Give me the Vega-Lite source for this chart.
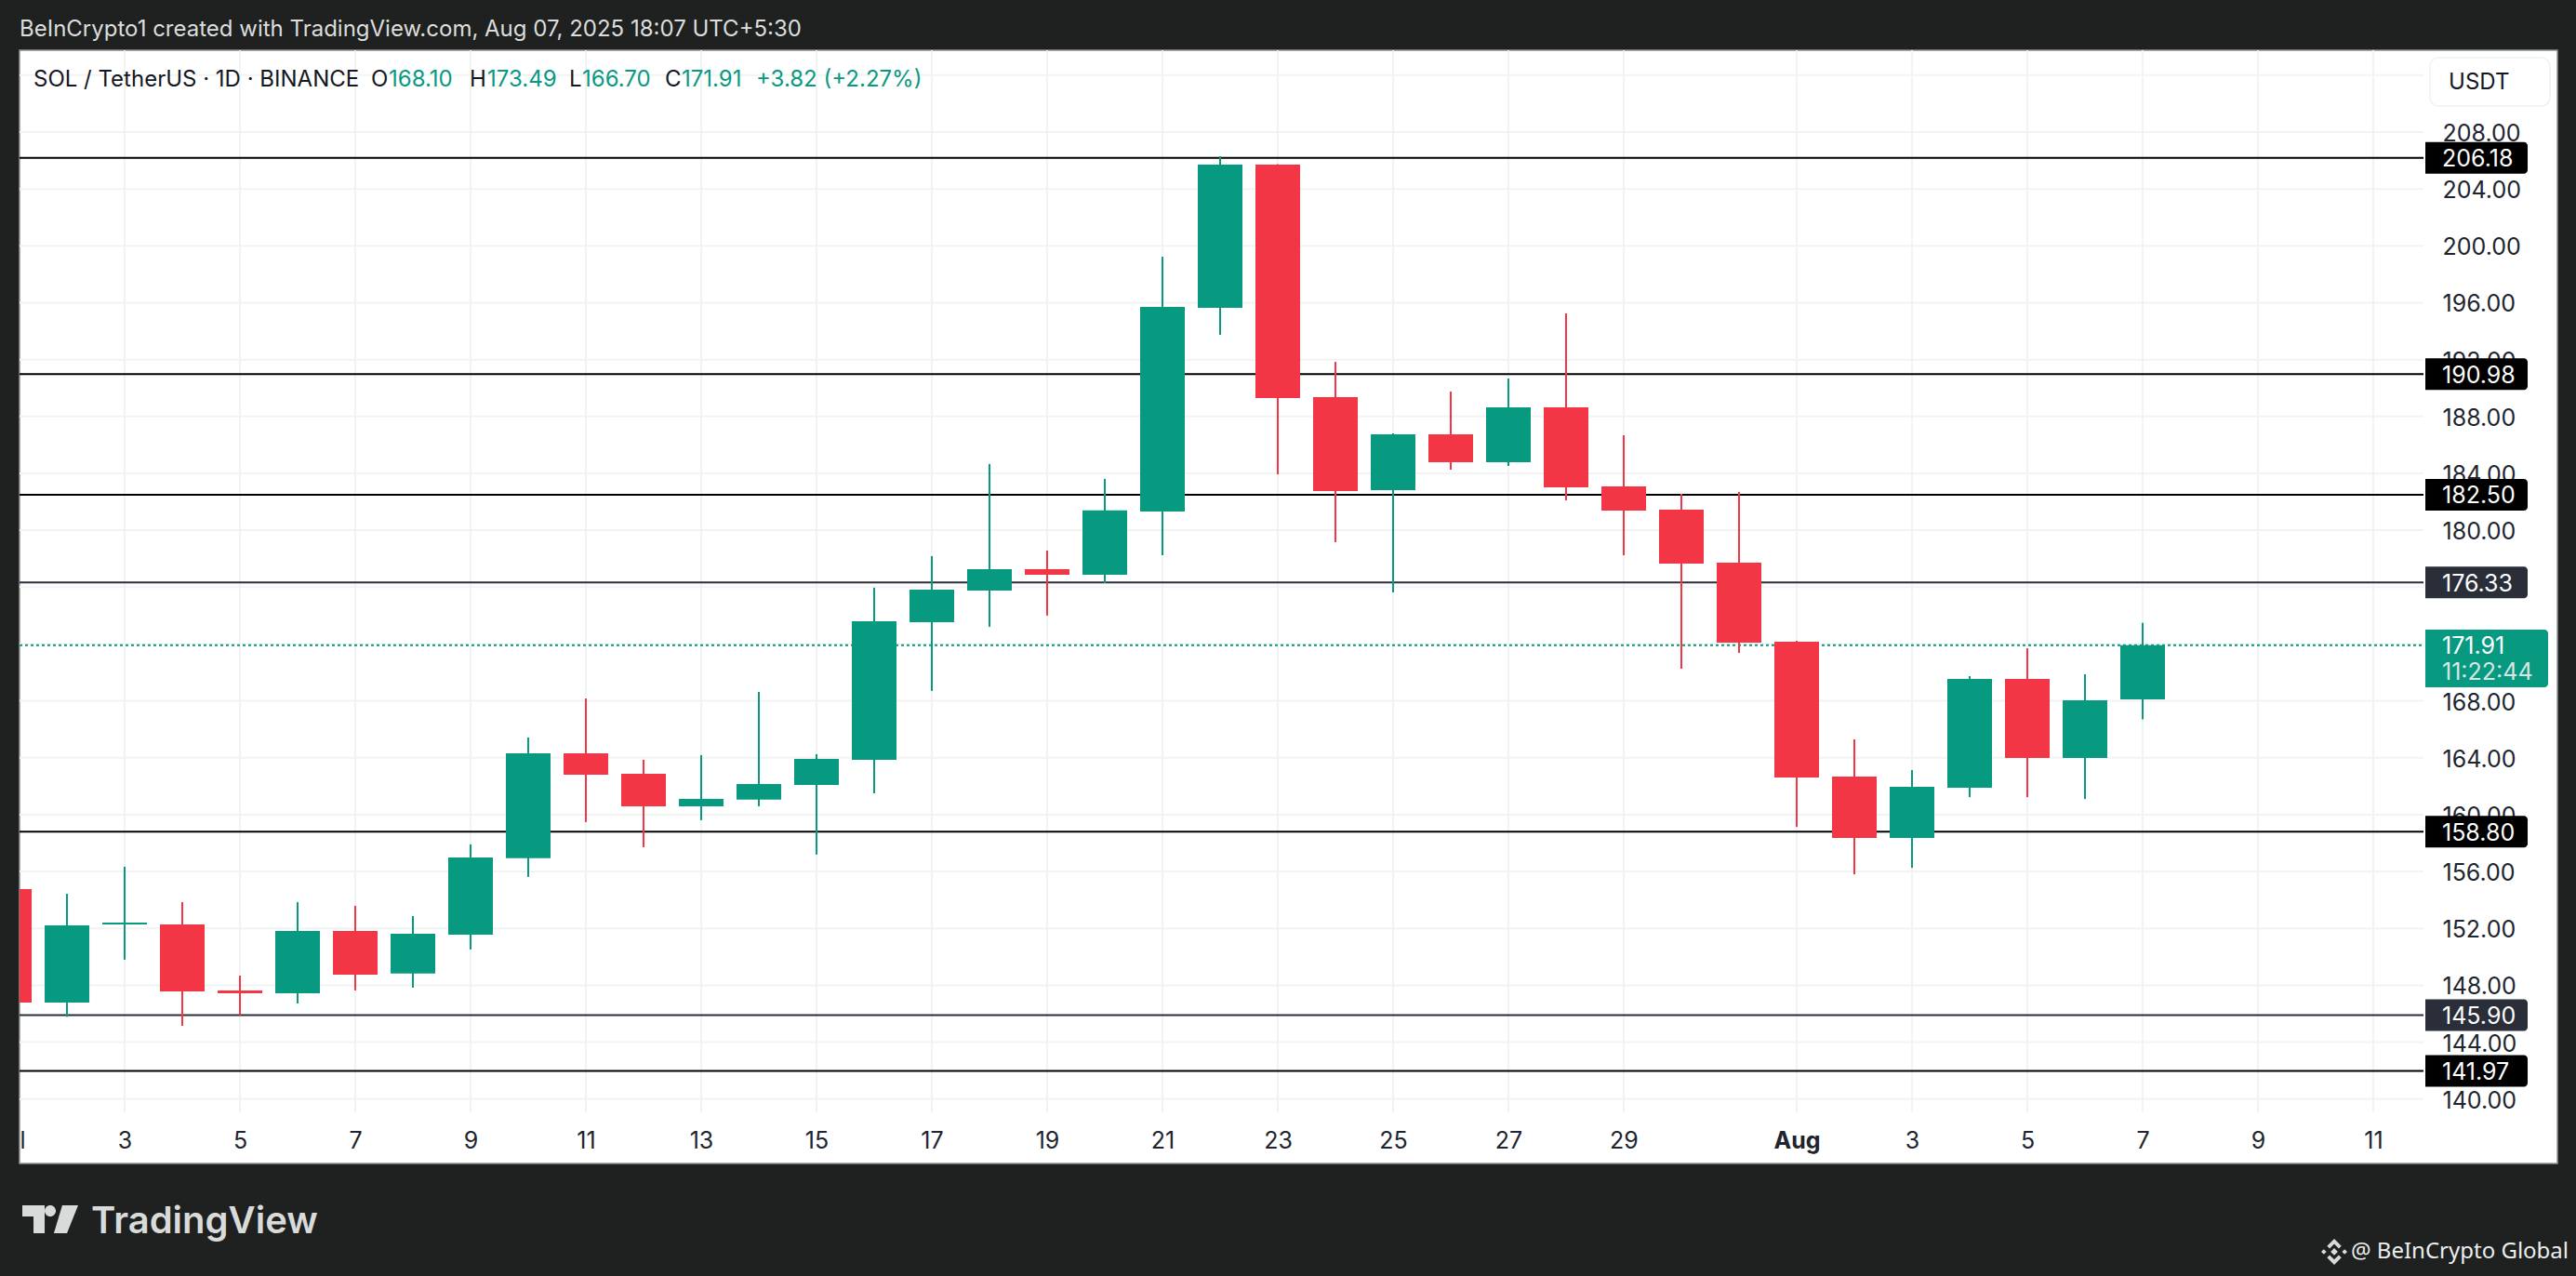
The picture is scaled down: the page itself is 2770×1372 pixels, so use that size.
{
  "$schema": "https://vega.github.io/schema/vega-lite/v6.json",
  "width": 2729,
  "height": 1197,
  "autosize": {"type": "none"},
  "padding": {"left": 21, "top": 54, "right": 20, "bottom": 121},
  "background": "#1e2120",
  "title": {
    "text": "BeInCrypto1 created with TradingView.com, Aug 07, 2025 18:07 UTC+5:30",
    "anchor": "start",
    "frame": "group",
    "font": "Inter",
    "fontSize": 24,
    "fontWeight": 400,
    "color": "#dcdddc",
    "offset": 9
  },
  "datasets": {
    "candles": [
      {"date": "2025-07-01", "open": 154.77, "high": 155.2, "low": 146.3, "close": 146.79},
      {"date": "2025-07-02", "open": 146.79, "high": 154.44, "low": 145.78, "close": 152.22},
      {"date": "2025-07-03", "open": 152.28, "high": 156.34, "low": 149.8, "close": 152.41},
      {"date": "2025-07-04", "open": 152.28, "high": 153.85, "low": 145.15, "close": 147.57},
      {"date": "2025-07-05", "open": 147.64, "high": 148.68, "low": 145.89, "close": 147.44},
      {"date": "2025-07-06", "open": 147.44, "high": 153.85, "low": 146.72, "close": 151.82},
      {"date": "2025-07-07", "open": 151.82, "high": 153.59, "low": 147.64, "close": 148.75},
      {"date": "2025-07-08", "open": 148.82, "high": 152.87, "low": 147.83, "close": 151.63},
      {"date": "2025-07-09", "open": 151.56, "high": 157.91, "low": 150.52, "close": 156.99},
      {"date": "2025-07-10", "open": 156.93, "high": 165.43, "low": 155.62, "close": 164.32},
      {"date": "2025-07-11", "open": 164.32, "high": 168.17, "low": 159.48, "close": 162.81},
      {"date": "2025-07-12", "open": 162.88, "high": 163.86, "low": 157.71, "close": 160.59},
      {"date": "2025-07-13", "open": 160.59, "high": 164.19, "low": 159.61, "close": 161.11},
      {"date": "2025-07-14", "open": 161.05, "high": 168.63, "low": 160.59, "close": 162.16},
      {"date": "2025-07-15", "open": 162.09, "high": 164.25, "low": 157.19, "close": 163.92},
      {"date": "2025-07-16", "open": 163.86, "high": 175.96, "low": 161.5, "close": 173.6},
      {"date": "2025-07-17", "open": 173.54, "high": 178.18, "low": 168.7, "close": 175.83},
      {"date": "2025-07-18", "open": 175.76, "high": 184.66, "low": 173.21, "close": 177.26},
      {"date": "2025-07-19", "open": 177.26, "high": 178.57, "low": 174.0, "close": 176.87},
      {"date": "2025-07-20", "open": 176.87, "high": 183.61, "low": 176.28, "close": 181.39},
      {"date": "2025-07-21", "open": 181.32, "high": 199.24, "low": 178.24, "close": 195.7},
      {"date": "2025-07-22", "open": 195.64, "high": 206.3, "low": 193.74, "close": 205.71},
      {"date": "2025-07-23", "open": 205.71, "high": 205.75, "low": 183.93, "close": 189.29},
      {"date": "2025-07-24", "open": 189.36, "high": 191.84, "low": 179.16, "close": 182.75},
      {"date": "2025-07-25", "open": 182.82, "high": 186.81, "low": 175.63, "close": 186.74},
      {"date": "2025-07-26", "open": 186.74, "high": 189.75, "low": 184.26, "close": 184.78},
      {"date": "2025-07-27", "open": 184.78, "high": 190.67, "low": 184.52, "close": 188.64},
      {"date": "2025-07-28", "open": 188.64, "high": 195.25, "low": 182.1, "close": 183.02},
      {"date": "2025-07-29", "open": 183.08, "high": 186.68, "low": 178.24, "close": 181.38},
      {"date": "2025-07-30", "open": 181.45, "high": 182.56, "low": 170.26, "close": 177.65},
      {"date": "2025-07-31", "open": 177.72, "high": 182.69, "low": 171.37, "close": 172.09},
      {"date": "2025-08-01", "open": 172.16, "high": 172.22, "low": 159.14, "close": 162.61},
      {"date": "2025-08-02", "open": 162.67, "high": 165.29, "low": 155.8, "close": 158.36},
      {"date": "2025-08-03", "open": 158.36, "high": 163.13, "low": 156.26, "close": 161.95},
      {"date": "2025-08-04", "open": 161.89, "high": 169.74, "low": 161.23, "close": 169.54},
      {"date": "2025-08-05", "open": 169.54, "high": 171.7, "low": 161.23, "close": 163.98},
      {"date": "2025-08-06", "open": 163.98, "high": 169.87, "low": 161.1, "close": 168.04},
      {"date": "2025-08-07", "open": 168.1, "high": 173.49, "low": 166.7, "close": 171.91}
    ],
    "levels": [
      {"price": 206.18, "kind": "level"},
      {"price": 190.98, "kind": "level"},
      {"price": 182.5, "kind": "level"},
      {"price": 176.33, "kind": "soft"},
      {"price": 158.8, "kind": "level"},
      {"price": 145.9, "kind": "soft"},
      {"price": 141.97, "kind": "level"}
    ],
    "lastPrice": [{"price": 171.91, "countdown": "11:22:44"}],
    "gridPrices": [
      {"price": 140}, {"price": 144}, {"price": 148}, {"price": 152}, {"price": 156},
      {"price": 160}, {"price": 164}, {"price": 168}, {"price": 172}, {"price": 176},
      {"price": 180}, {"price": 184}, {"price": 188}, {"price": 192}, {"price": 196},
      {"price": 200}, {"price": 204}, {"price": 208}, {"price": 212}
    ],
    "gridDays": [
      {"date": "2025-07-03"}, {"date": "2025-07-05"}, {"date": "2025-07-07"}, {"date": "2025-07-09"},
      {"date": "2025-07-11"}, {"date": "2025-07-13"}, {"date": "2025-07-15"}, {"date": "2025-07-17"},
      {"date": "2025-07-19"}, {"date": "2025-07-21"}, {"date": "2025-07-23"}, {"date": "2025-07-25"},
      {"date": "2025-07-27"}, {"date": "2025-07-29"}, {"date": "2025-08-01"}, {"date": "2025-08-03"},
      {"date": "2025-08-05"}, {"date": "2025-08-07"}, {"date": "2025-08-09"}, {"date": "2025-08-11"}
    ],
    "legend": [
      {"label": "SOL / TetherUS · 1D · BINANCE", "at": "2025-07-01T10:04:00Z", "kind": "ink"},
      {"label": "O", "at": "2025-07-07T06:35:00Z", "kind": "ink"},
      {"label": "168.10", "at": "2025-07-07T13:56:00Z", "kind": "up"},
      {"label": "H", "at": "2025-07-08T23:37:00Z", "kind": "ink"},
      {"label": "173.49", "at": "2025-07-09T06:58:00Z", "kind": "up"},
      {"label": "L", "at": "2025-07-10T17:02:00Z", "kind": "ink"},
      {"label": "166.70", "at": "2025-07-10T22:27:00Z", "kind": "up"},
      {"label": "C", "at": "2025-07-12T08:54:00Z", "kind": "ink"},
      {"label": "171.91", "at": "2025-07-12T15:52:00Z", "kind": "up"},
      {"label": "+3.82 (+2.27%)", "at": "2025-07-13T22:50:00Z", "kind": "up"}
    ]
  },
  "layer": [
    {
      "data": {"name": "gridPrices"},
      "mark": {"type": "rule", "stroke": "#f2f3f3", "strokeWidth": 2},
      "encoding": {
        "x": {
          "datum": {"year": 2025, "month": 7, "date": 1, "hours": 4, "minutes": 15, "utc": true},
          "type": "temporal",
          "scale": {
            "type": "utc",
            "domain": [
              {"year": 2025, "month": 7, "date": 1, "hours": 4, "minutes": 15, "utc": true},
              {"year": 2025, "month": 8, "date": 14, "hours": 4, "minutes": 39, "utc": true}
            ],
            "nice": false,
            "padding": 0
          }
        },
        "x2": {"datum": {"year": 2025, "month": 8, "date": 11, "hours": 20, "minutes": 55, "utc": true}},
        "y": {
          "field": "price",
          "type": "quantitative",
          "scale": {"domain": [135.47, 213.755], "nice": false, "zero": false, "padding": 0},
          "title": null,
          "axis": {
            "orient": "right",
            "offset": -144,
            "values": [140, 144, 148, 152, 156, 160, 164, 168, 172, 176, 180, 184, 188, 192, 196, 200, 204, 208],
            "format": ".2f",
            "grid": false,
            "domain": false,
            "ticks": false,
            "labelFont": "Inter",
            "labelFontSize": 25,
            "labelColor": "#20242e",
            "labelPadding": 20,
            "labelAlign": "left",
            "labelBaseline": "middle",
            "labelOffset": 1.5,
            "labelOverlap": false,
            "labelBound": false
          }
        }
      }
    },
    {
      "data": {"name": "gridDays"},
      "mark": {"type": "rule", "stroke": "#f2f3f3", "strokeWidth": 2},
      "encoding": {
        "x": {
          "field": "date",
          "type": "temporal",
          "title": null,
          "axis": {
            "orient": "bottom",
            "offset": -55,
            "values": [
              {"year": 2025, "month": 7, "date": 1, "hours": 5, "minutes": 25, "utc": true},
              {"year": 2025, "month": 7, "date": 3, "utc": true}, {"year": 2025, "month": 7, "date": 5, "utc": true},
              {"year": 2025, "month": 7, "date": 7, "utc": true}, {"year": 2025, "month": 7, "date": 9, "utc": true},
              {"year": 2025, "month": 7, "date": 11, "utc": true}, {"year": 2025, "month": 7, "date": 13, "utc": true},
              {"year": 2025, "month": 7, "date": 15, "utc": true}, {"year": 2025, "month": 7, "date": 17, "utc": true},
              {"year": 2025, "month": 7, "date": 19, "utc": true}, {"year": 2025, "month": 7, "date": 21, "utc": true},
              {"year": 2025, "month": 7, "date": 23, "utc": true}, {"year": 2025, "month": 7, "date": 25, "utc": true},
              {"year": 2025, "month": 7, "date": 27, "utc": true}, {"year": 2025, "month": 7, "date": 29, "utc": true},
              {"year": 2025, "month": 8, "date": 1, "utc": true}, {"year": 2025, "month": 8, "date": 3, "utc": true},
              {"year": 2025, "month": 8, "date": 5, "utc": true}, {"year": 2025, "month": 8, "date": 7, "utc": true},
              {"year": 2025, "month": 8, "date": 9, "utc": true}, {"year": 2025, "month": 8, "date": 11, "utc": true}
            ],
            "labelExpr": "utcdate(datum.value) == 1 ? (utcmonth(datum.value) == 7 ? 'Aug' : 'l') : utcdate(datum.value)",
            "labelFontWeight": {"expr": "utcmonth(datum.value) == 7 && utcdate(datum.value) == 1 ? 'bold' : 'normal'"},
            "grid": false,
            "domain": false,
            "ticks": false,
            "labelFont": "Inter",
            "labelFontSize": 25,
            "labelColor": "#20242e",
            "labelPadding": 18,
            "labelOverlap": false,
            "labelBound": false,
            "labelFlush": false
          }
        },
        "y": {"datum": 213.755},
        "y2": {"datum": 139.07}
      }
    },
    {
      "data": {"name": "levels"},
      "mark": {"type": "rule", "strokeWidth": 2},
      "encoding": {
        "x": {"datum": {"year": 2025, "month": 7, "date": 1, "hours": 4, "minutes": 15, "utc": true}, "type": "temporal"},
        "x2": {"datum": {"year": 2025, "month": 8, "date": 11, "hours": 20, "minutes": 55, "utc": true}},
        "y": {"field": "price", "type": "quantitative"},
        "color": {
          "field": "kind",
          "type": "nominal",
          "scale": {"domain": ["level", "soft", "ink", "up", "paper", "muted"], "range": ["#000000", "#2a2e39", "#131722", "#089981", "#ffffff", "#d6dcda"]}
        }
      }
    },
    {
      "data": {"name": "lastPrice"},
      "mark": {"type": "rule", "stroke": "#089981", "strokeWidth": 2, "strokeDash": [3, 3]},
      "encoding": {
        "x": {"datum": {"year": 2025, "month": 7, "date": 1, "hours": 4, "minutes": 15, "utc": true}, "type": "temporal"},
        "x2": {"datum": {"year": 2025, "month": 8, "date": 11, "hours": 20, "minutes": 55, "utc": true}},
        "y": {"field": "price", "type": "quantitative"}
      }
    },
    {
      "data": {"name": "candles"},
      "mark": {"type": "rule", "strokeWidth": 2, "clip": true},
      "encoding": {
        "x": {"field": "date", "type": "temporal"},
        "y": {"field": "low", "type": "quantitative"},
        "y2": {"field": "high"},
        "color": {"condition": {"test": "datum.close >= datum.open", "value": "#089981"}, "value": "#f23645"}
      }
    },
    {
      "data": {"name": "candles"},
      "mark": {"type": "bar", "size": 48, "clip": true},
      "encoding": {
        "x": {"field": "date", "type": "temporal"},
        "y": {"field": "open", "type": "quantitative"},
        "y2": {"field": "close"},
        "color": {"condition": {"test": "datum.close >= datum.open", "value": "#089981"}, "value": "#f23645"}
      }
    },
    {
      "data": {"name": "levels"},
      "mark": {"type": "bar", "orient": "horizontal", "size": 34, "cornerRadiusTopRight": 4, "cornerRadiusBottomRight": 4},
      "encoding": {
        "x": {"datum": {"year": 2025, "month": 8, "date": 11, "hours": 21, "minutes": 41, "utc": true}, "type": "temporal"},
        "x2": {"datum": {"year": 2025, "month": 8, "date": 13, "hours": 16, "minutes": 16, "utc": true}},
        "y": {"field": "price", "type": "quantitative"},
        "color": {"field": "kind", "type": "nominal"}
      }
    },
    {
      "data": {"name": "levels"},
      "mark": {"type": "text", "align": "left", "baseline": "middle", "dy": 1.5, "font": "Inter", "fontSize": 25, "color": "#ffffff"},
      "encoding": {
        "x": {"datum": {"year": 2025, "month": 8, "date": 12, "hours": 4, "minutes": 39, "utc": true}, "type": "temporal"},
        "y": {"field": "price", "type": "quantitative"},
        "text": {"field": "price", "type": "quantitative", "format": ".2f"}
      }
    },
    {
      "data": {"name": "lastPrice"},
      "mark": {"type": "rect", "color": "#089981", "cornerRadiusTopRight": 4, "cornerRadiusBottomRight": 4},
      "encoding": {
        "x": {"datum": {"year": 2025, "month": 8, "date": 11, "hours": 21, "minutes": 41, "utc": true}, "type": "temporal"},
        "x2": {"datum": {"year": 2025, "month": 8, "date": 14, "hours": 0, "minutes": 47, "utc": true}},
        "y": {"datum": 173.01, "type": "quantitative"},
        "y2": {"datum": 168.96}
      }
    },
    {
      "data": {"name": "lastPrice"},
      "mark": {"type": "text", "align": "left", "baseline": "middle", "dy": 1.5, "font": "Inter", "fontSize": 25, "color": "#ffffff"},
      "encoding": {
        "x": {"datum": {"year": 2025, "month": 8, "date": 12, "hours": 4, "minutes": 39, "utc": true}, "type": "temporal"},
        "y": {"field": "price", "type": "quantitative"},
        "text": {"field": "price", "type": "quantitative", "format": ".2f"}
      }
    },
    {
      "data": {"name": "lastPrice"},
      "mark": {"type": "text", "align": "left", "baseline": "middle", "dy": 1.5, "font": "Inter", "fontSize": 25, "color": "#d6e6e1"},
      "encoding": {
        "x": {"datum": {"year": 2025, "month": 8, "date": 12, "hours": 4, "minutes": 39, "utc": true}, "type": "temporal"},
        "y": {"datum": 170.09, "type": "quantitative"},
        "text": {"field": "countdown"}
      }
    },
    {
      "data": {"name": "legend"},
      "mark": {"type": "text", "align": "left", "baseline": "alphabetic", "font": "Inter", "fontSize": 24},
      "encoding": {
        "x": {"field": "at", "type": "temporal"},
        "y": {"datum": 211.2, "type": "quantitative"},
        "text": {"field": "label"},
        "color": {"field": "kind", "type": "nominal"}
      }
    },
    {
      "data": {"values": [{"unit": "USDT"}]},
      "mark": {"type": "rect", "fill": "#ffffff", "stroke": "#f0f1f1", "strokeWidth": 1.5, "cornerRadius": 9},
      "encoding": {
        "x": {"datum": {"year": 2025, "month": 8, "date": 11, "hours": 23, "minutes": 37, "utc": true}, "type": "temporal"},
        "x2": {"datum": {"year": 2025, "month": 8, "date": 14, "hours": 1, "minutes": 33, "utc": true}},
        "y": {"datum": 213.23, "type": "quantitative"},
        "y2": {"datum": 209.83}
      }
    },
    {
      "data": {"values": [{"unit": "USDT"}]},
      "mark": {"type": "text", "align": "left", "baseline": "alphabetic", "font": "Inter", "fontSize": 24, "color": "#131722"},
      "encoding": {
        "x": {"datum": {"year": 2025, "month": 8, "date": 12, "hours": 7, "minutes": 22, "utc": true}, "type": "temporal"},
        "y": {"datum": 211.01, "type": "quantitative"},
        "text": {"field": "unit"}
      }
    },
    {
      "data": {"values": [{"brand": "TradingView"}]},
      "mark": {
        "type": "point",
        "filled": true,
        "opacity": 1,
        "size": 3600,
        "color": "#d9dbda",
        "strokeWidth": 0,
        "shape": "M-1,-0.5L-0.2,-0.5L-0.2,0.5L-0.6,0.5L-0.6,-0.1L-1,-0.1ZM-0.2,-0.3A0.2,0.2 0 1,0 0.2,-0.3A0.2,0.2 0 1,0 -0.2,-0.3ZM0.43,-0.5L1,-0.5L0.6,0.5L0.13,0.5Z"
      },
      "encoding": {
        "x": {"datum": {"year": 2025, "month": 7, "date": 1, "hours": 17, "minutes": 2, "utc": true}, "type": "temporal"},
        "y": {"datum": 131.54, "type": "quantitative"}
      }
    },
    {
      "data": {"values": [{"brand": "TradingView"}]},
      "mark": {"type": "text", "align": "left", "baseline": "alphabetic", "font": "Inter", "fontSize": 40, "fontWeight": 600, "color": "#d9dbda"},
      "encoding": {
        "x": {"datum": {"year": 2025, "month": 7, "date": 2, "hours": 10, "minutes": 4, "utc": true}, "type": "temporal"},
        "y": {"datum": 130.56, "type": "quantitative"},
        "text": {"field": "brand"}
      }
    },
    {
      "data": {"values": [{"credit": "@ BeInCrypto Global"}]},
      "mark": {
        "type": "point",
        "filled": true,
        "opacity": 1,
        "size": 784,
        "color": "#d9dbda",
        "strokeWidth": 0,
        "shape": "M0,-1L0.55,-0.45L0.35,-0.25L0,-0.6L-0.35,-0.25L-0.55,-0.45ZM0,1L0.55,0.45L0.35,0.25L0,0.6L-0.35,0.25L-0.55,0.45ZM0,-0.28L0.28,0L0,0.28L-0.28,0ZM-1,0L-0.8,-0.2L-0.6,0L-0.8,0.2ZM1,0L0.8,-0.2L0.6,0L0.8,0.2Z"
      },
      "encoding": {
        "x": {"datum": {"year": 2025, "month": 8, "date": 10, "hours": 7, "minutes": 45, "utc": true}, "type": "temporal"},
        "y": {"datum": 129.26, "type": "quantitative"}
      }
    },
    {
      "data": {"values": [{"credit": "@ BeInCrypto Global"}]},
      "mark": {"type": "text", "align": "right", "baseline": "alphabetic", "font": "Noto Sans", "fontSize": 24, "color": "#eceded"},
      "encoding": {
        "x": {"datum": {"year": 2025, "month": 8, "date": 14, "hours": 9, "minutes": 18, "utc": true}, "type": "temporal"},
        "y": {"datum": 128.8, "type": "quantitative"},
        "text": {"field": "credit"}
      }
    }
  ],
  "config": {
    "legend": {"disable": true},
    "view": {"fill": "#ffffff", "stroke": "#8f9191", "strokeWidth": 1.5}
  }
}
